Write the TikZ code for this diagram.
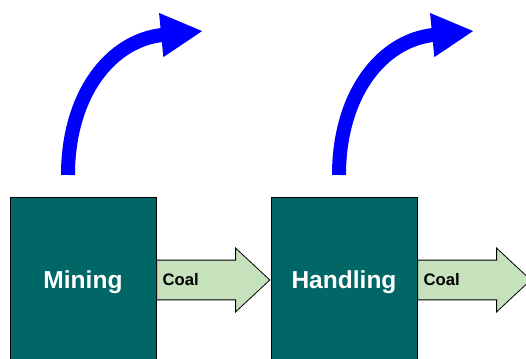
\documentclass[tikz,border=0pt]{standalone}
\usepackage{fontspec}
\setmainfont{Liberation Sans}
\usetikzlibrary{arrows.meta,shapes.arrows}
\definecolor{stagecol}{RGB}{0,102,102}
\definecolor{coalcol}{RGB}{197,226,188}

\begin{document}
\begin{tikzpicture}[x=0.75pt,y=-0.75pt,
  stage/.style={draw=black,line width=0.6pt,fill=stagecol,text=white,font=\bfseries\fontsize{18.4}{22}\selectfont,
    text depth=0pt,minimum width=109.5pt,minimum height=124.5pt,inner sep=0pt},
  flow/.style={single arrow,draw=black,line width=0.6pt,fill=coalcol,minimum height=84.75pt,
    single arrow head extend=9pt,single arrow tip angle=86,inner xsep=0pt,inner ysep=14.6pt,anchor=tail},
  flowtext/.style={anchor=west,inner sep=4.5pt,font=\bfseries\fontsize{12.5}{15}\selectfont},
  release/.style={blue,line width=10.5pt,-{Triangle[length=31.5pt,width=30.75pt]}}]
  \useasboundingbox (0,0) rectangle (526,359);
  \foreach \x/\a/\name/\txt in {0/0/mining/Mining,261/271/handling/Handling} {
    \node[stage] (\name) at (83+\x,280) {\txt};
    \node[flow,label={[flowtext]west:Coal}] (\name-coal) at (\name.east) {};
    \coordinate (\name-from) at (68+\a,175);
    \coordinate (\name-to) at (203+\a,31);
    \draw[release] (\name-from) .. controls +(0,-80) and +(-93,9) .. (\name-to);
  }
\end{tikzpicture}
\end{document}
